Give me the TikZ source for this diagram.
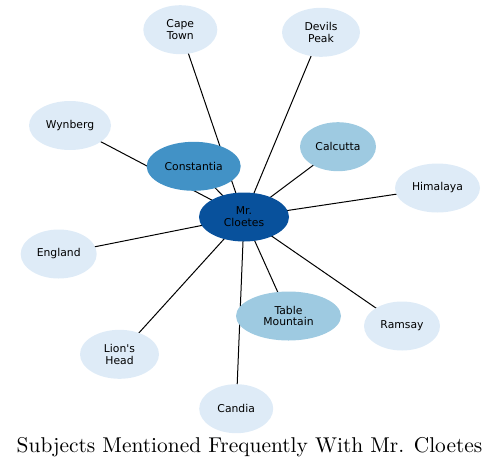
\documentclass[tikz,border=0pt]{standalone}
\usepackage{fontspec}
\newfontfamily\labelfont{DejaVu Sans}
\newfontfamily\titlefont{lmroman10-regular}[Extension=.otf]
\usetikzlibrary{shapes.geometric, backgrounds}
\definecolor{bdark}{HTML}{08519C}
\definecolor{bmid}{HTML}{4292C6}
\definecolor{blight}{HTML}{9ECAE1}
\definecolor{bpale}{HTML}{DEEBF7}
\tikzset{
  topic/.style={ellipse, fill=#1, draw=none, inner sep=0pt, minimum height=49pt, align=center, font=\labelfont\fontsize{10.8}{11.8}\selectfont},
  topic/.default=bpale,
  link/.style={draw=black, line width=1pt},
  caption/.style={font=\titlefont\fontsize{21.4}{24}\selectfont, anchor=base},
}

\begin{document}
\begin{tikzpicture}[x=1pt, y=-1pt]
  \useasboundingbox (0,0) rectangle (500,469);

  % centre
  \node[topic=bdark, minimum width=90pt] (cl) at (244,217) {Mr.\\Cloetes};

  % often mentioned
  \node[topic=bmid, minimum width=94pt]    (con) at (193.7,166.3) {Constantia};
  \node[topic=blight, minimum width=76pt]  (cal) at (338,146.7)   {Calcutta};
  \node[topic=blight, minimum width=105pt] (tab) at (288.5,316)   {Table\\Mountain};

  % less often
  \node[topic, minimum width=74pt] (cap) at (180.3,29.7)  {Cape\\Town};
  \node[topic, minimum width=78pt] (dev) at (321,32.3)    {Devils\\Peak};
  \node[topic, minimum width=82pt] (wyn) at (70,125.5)    {Wynberg};
  \node[topic, minimum width=85pt] (him) at (437.5,188)   {Himalaya};
  \node[topic, minimum width=76pt] (eng) at (58.7,254)    {England};
  \node[topic, minimum width=79pt] (lio) at (119.5,354.3) {Lion's\\Head};
  \node[topic, minimum width=74pt] (can) at (236.2,408.7) {Candia};
  \node[topic, minimum width=76pt] (ram) at (402,326)     {Ramsay};

  \begin{scope}[on background layer]
    \draw[link] (cl.center) -- (cap.center);
    \draw[link] (cl.center) -- (dev.center);
    \draw[link] (cl.center) -- (wyn.center);
    \draw[link] (cl.center) -- (con.center);
    \draw[link] (cl.center) -- (cal.center);
    \draw[link] (cl.center) -- (him.center);
    \draw[link] (cl.center) -- (eng.center);
    \draw[link] (cl.center) -- (lio.center);
    \draw[link] (cl.center) -- (can.center);
    \draw[link] (cl.center) -- (tab.center);
    \draw[link] (cl.center) -- (ram.center);
  \end{scope}

  \node[caption] (title) at (249.5,452.7) {Subjects Mentioned Frequently With Mr. Cloetes};
\end{tikzpicture}
\end{document}
